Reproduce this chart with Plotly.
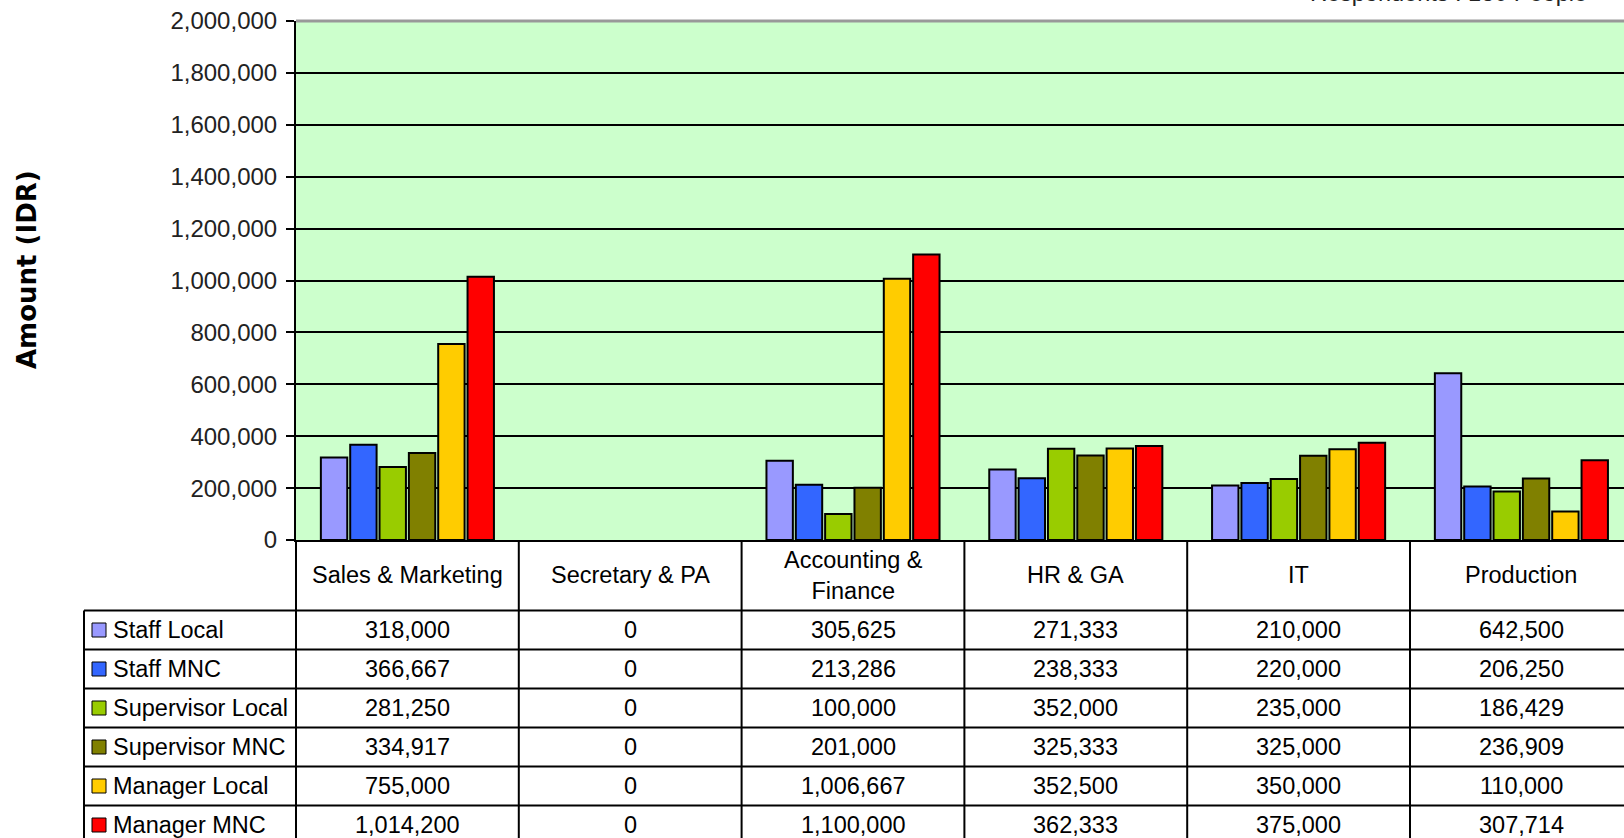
import plotly.graph_objects as go

categories = ["Sales & Marketing", "Secretary & PA", "Accounting & Finance", "HR & GA", "IT", "Production"]
header_labels = ["Sales & Marketing", "Secretary & PA", "Accounting &<br>Finance", "HR & GA", "IT", "Production"]
series_names = ["Staff Local", "Staff MNC", "Supervisor Local", "Supervisor MNC", "Manager Local", "Manager MNC"]
staff_local = [318000, 0, 305625, 271333, 210000, 642500]
staff_mnc = [366667, 0, 213286, 238333, 220000, 206250]
supervisor_local = [281250, 0, 100000, 352000, 235000, 186429]
supervisor_mnc = [334917, 0, 201000, 325333, 325000, 236909]
manager_local = [755000, 0, 1006667, 352500, 350000, 110000]
manager_mnc = [1014200, 0, 1100000, 362333, 375000, 307714]
series_values = [staff_local, staff_mnc, supervisor_local, supervisor_mnc, manager_local, manager_mnc]
colors = ["#9999FF", "#3366FF", "#99CC00", "#808000", "#FFCC00", "#FF0000"]
y_ticks = list(range(0, 2000001, 200000))
y_title = "Amount (IDR)"
note = "Respondents : 130 People"

W, H = 1624, 838
L, R, T, B = 296, 0, 21, 298
PH = H - T - B
PW = W - L - R
FONT = "Liberation Sans, Arial, sans-serif"
TXT = 23.5


def py(pix):
    return (H - B - pix) / PH


def px(pix):
    return (pix - L) / PW


fig = go.Figure()
for name, vals, col in zip(series_names, series_values, colors):
    fig.add_trace(go.Bar(
        x=categories, y=vals, name=name,
        marker=dict(color=col, line=dict(color="#000000", width=[2 if v else 0 for v in vals])),
        showlegend=False, hoverinfo="skip",
    ))

shapes = []
annotations = []

# top border (grey)
shapes.append(dict(type="line", xref="paper", yref="paper", x0=0, x1=1, y0=1, y1=1,
                   line=dict(color="#999999", width=3)))

row_h = 39.0
first_row_top = 610.5
table_bottom = 860

# header row left border
shapes.append(dict(type="line", xref="paper", yref="paper", x0=0, x1=0,
                   y0=py(540), y1=py(table_bottom), line=dict(color="#000", width=2)))
# table left border
shapes.append(dict(type="line", xref="paper", yref="paper", x0=px(84), x1=px(84),
                   y0=py(first_row_top), y1=py(table_bottom), line=dict(color="#000", width=2)))
# column separators
for i in range(len(categories)):
    shapes.append(dict(type="line", xref="x", yref="paper", x0=i + 0.5, x1=i + 0.5,
                       y0=py(540), y1=py(table_bottom), line=dict(color="#000", width=2)))
# row separators
for r in range(len(series_names) + 1):
    yy = py(first_row_top + r * row_h)
    shapes.append(dict(type="line", xref="paper", yref="paper", x0=px(84), x1=1,
                       y0=yy, y1=yy, line=dict(color="#000", width=2)))

# header labels
for cat, lab in zip(categories, header_labels):
    annotations.append(dict(xref="x", yref="paper", x=cat, y=py(575), text=lab,
                            showarrow=False, xanchor="center", yanchor="middle",
                            font=dict(family=FONT, size=TXT, color="#000")))

# rows
for r, (name, vals, col) in enumerate(zip(series_names, series_values, colors)):
    cy = first_row_top + r * row_h + row_h / 2
    shapes.append(dict(type="rect", xref="paper", yref="paper",
                       x0=px(92), x1=px(106), y0=py(cy + 7), y1=py(cy - 7),
                       fillcolor=col, line=dict(color="#000", width=1)))
    annotations.append(dict(xref="paper", yref="paper", x=px(111), y=py(cy), text=name,
                            showarrow=False, xanchor="left", yanchor="middle",
                            font=dict(family=FONT, size=TXT, color="#000")))
    for cat, v in zip(categories, vals):
        annotations.append(dict(xref="x", yref="paper", x=cat, y=py(cy), text=f"{v:,}",
                                showarrow=False, xanchor="center", yanchor="middle",
                                font=dict(family=FONT, size=TXT, color="#000")))

# y-axis title
annotations.append(dict(xref="paper", yref="paper", x=px(27), y=py(270), text=f"<b>{y_title}</b>",
                        textangle=-90, showarrow=False, xanchor="center", yanchor="middle",
                        font=dict(family="DejaVu Sans, sans-serif", size=26, color="#000")))
# partially visible note at top right
annotations.append(dict(xref="paper", yref="paper", x=px(1589), y=py(8), text=note,
                        showarrow=False, xanchor="right", yanchor="bottom",
                        font=dict(family=FONT, size=TXT, color="#222")))

fig.update_layout(
    width=W, height=H,
    margin=dict(l=L, r=R, t=T, b=B, pad=0),
    paper_bgcolor="#FFFFFF",
    plot_bgcolor="#CCFFCC",
    barmode="group",
    bargap=0.21,
    bargroupgap=0.1,
    font=dict(family=FONT, size=TXT, color="#000"),
    xaxis=dict(
        type="category", range=[-0.5, -0.5 + PW / 222.8],
        showticklabels=False, ticks="", showgrid=False, zeroline=False,
        showline=True, linecolor="#000", linewidth=2,
    ),
    yaxis=dict(
        range=[0, 2000000], tickvals=y_ticks, tickformat=",",
        ticks="outside", ticklen=8, tickwidth=2, tickcolor="#000",
        showgrid=True, gridcolor="#000", gridwidth=1.5,
        zeroline=False, showline=True, linecolor="#000", linewidth=2,
        tickfont=dict(family=FONT, size=24, color="#222"),
        ticklabelstandoff=4,
    ),
    shapes=shapes,
    annotations=annotations,
)

fig.write_html("out.html", config={"displayModeBar": False},
               post_script="document.body.style.margin='0';document.body.style.overflow='hidden';")
